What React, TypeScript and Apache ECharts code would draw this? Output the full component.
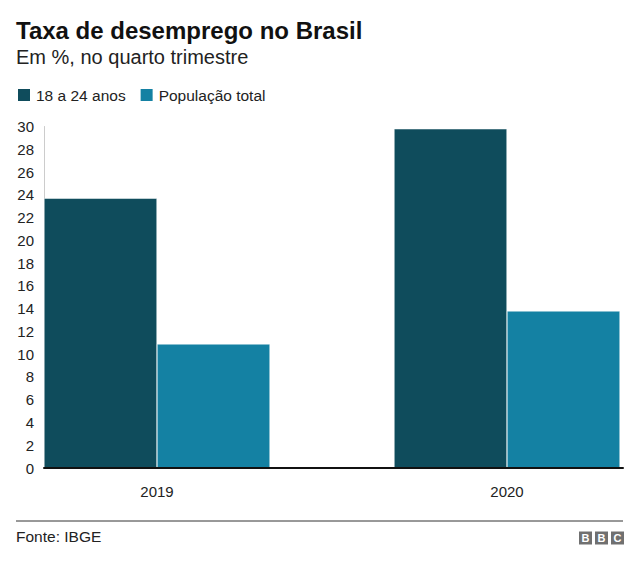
import React, { useEffect, useRef } from "react";
import * as echarts from "echarts";

const categories = ["2019", "2020"];
const youthRate = [23.7, 29.8];
const totalRate = [10.9, 13.8];
const seriesNames = ["18 a 24 anos", "População total"];
const yMin = 0;
const yMax = 30;
const yStep = 2;

const FONT = "'Liberation Sans', Arial, Helvetica, sans-serif";
const DARK = "#0f4c5c";
const LIGHT = "#1481a3";

export default function App() {
  const ref = useRef<HTMLDivElement>(null);
  useEffect(() => {
    if (!ref.current) return;
    const chart = echarts.init(ref.current, undefined, { renderer: "svg" });
    const gridTop = 126.5;
    const gridBottom = 565 - 468;
    const logoLetters = ["B", "B", "C"];
    chart.setOption({
      animation: false,
      backgroundColor: "#ffffff",
      textStyle: { fontFamily: FONT },
      legend: {
        left: 11,
        top: 82,
        icon: "rect",
        itemWidth: 14,
        itemHeight: 14,
        itemGap: 13,
        data: seriesNames,
        textStyle: { fontFamily: FONT, fontSize: 15.5, color: "#222222" },
        selectedMode: false,
      },
      grid: [
        { left: 157, right: 133, top: gridTop, bottom: gridBottom },
        { left: 44, right: 17, top: gridTop, bottom: gridBottom },
      ],
      xAxis: [
        {
          type: "category",
          gridIndex: 0,
          data: categories,
          boundaryGap: false,
          axisLine: { show: false },
          axisTick: { show: false },
          axisLabel: { fontFamily: FONT, fontSize: 15, color: "#222222", margin: 16 },
          splitLine: { show: false },
        },
        {
          type: "value",
          gridIndex: 1,
          min: 0,
          max: 1,
          axisLine: { show: true, onZero: false, lineStyle: { color: "#111111", width: 2 } },
          axisTick: { show: false },
          axisLabel: { show: false },
          splitLine: { show: false },
          z: 10,
        },
      ],
      yAxis: [
        {
          type: "value",
          gridIndex: 0,
          min: yMin,
          max: yMax,
          interval: yStep,
          show: false,
        },
        {
          type: "value",
          gridIndex: 1,
          min: yMin,
          max: yMax,
          interval: yStep,
          axisLine: { show: true, lineStyle: { color: "#cccccc", width: 1 } },
          axisTick: { show: false },
          axisLabel: { fontFamily: FONT, fontSize: 15, color: "#222222", margin: 10 },
          splitLine: { show: false },
        },
      ],
      series: [
        {
          name: seriesNames[0],
          type: "bar",
          xAxisIndex: 0,
          yAxisIndex: 0,
          data: youthRate,
          barWidth: 113,
          barGap: "0%",
          clip: false,
          itemStyle: { color: DARK, borderColor: "#ffffff", borderWidth: 0.5 },
        },
        {
          name: seriesNames[1],
          type: "bar",
          xAxisIndex: 0,
          yAxisIndex: 0,
          data: totalRate,
          barWidth: 113,
          barGap: "0%",
          clip: false,
          itemStyle: { color: LIGHT, borderColor: "#ffffff", borderWidth: 0.5 },
        },
      ],
      graphic: [
        {
          type: "text",
          x: 16,
          y: 30,
          style: {
            text: "Taxa de desemprego no Brasil",
            font: `bold 24px ${FONT}`,
            fill: "#111111",
            verticalAlign: "middle",
          },
        },
        {
          type: "text",
          x: 16,
          y: 57,
          style: {
            text: "Em %, no quarto trimestre",
            font: `20px ${FONT}`,
            fill: "#222222",
            verticalAlign: "middle",
          },
        },
        {
          type: "line",
          shape: { x1: 16, y1: 521, x2: 623, y2: 521 },
          style: { stroke: "#333333", lineWidth: 1 },
        },
        {
          type: "text",
          x: 16,
          y: 536,
          style: {
            text: "Fonte: IBGE",
            font: `15.5px ${FONT}`,
            fill: "#222222",
            verticalAlign: "middle",
          },
        },
        ...logoLetters.flatMap((ch, i) => [
          {
            type: "rect",
            shape: { x: 579 + i * 16, y: 531.5, width: 13, height: 13 },
            style: { fill: "#707070" },
          },
          {
            type: "text",
            x: 579 + i * 16 + 6.5,
            y: 538.2,
            style: {
              text: ch,
              font: `bold 11px ${FONT}`,
              fill: "#ffffff",
              align: "center",
              verticalAlign: "middle",
            },
          },
        ]),
      ],
    });
    return () => chart.dispose();
  }, []);
  return <div ref={ref} style={{ width: 640, height: 565, position: "absolute", left: 0, top: 0 }} />;
}
